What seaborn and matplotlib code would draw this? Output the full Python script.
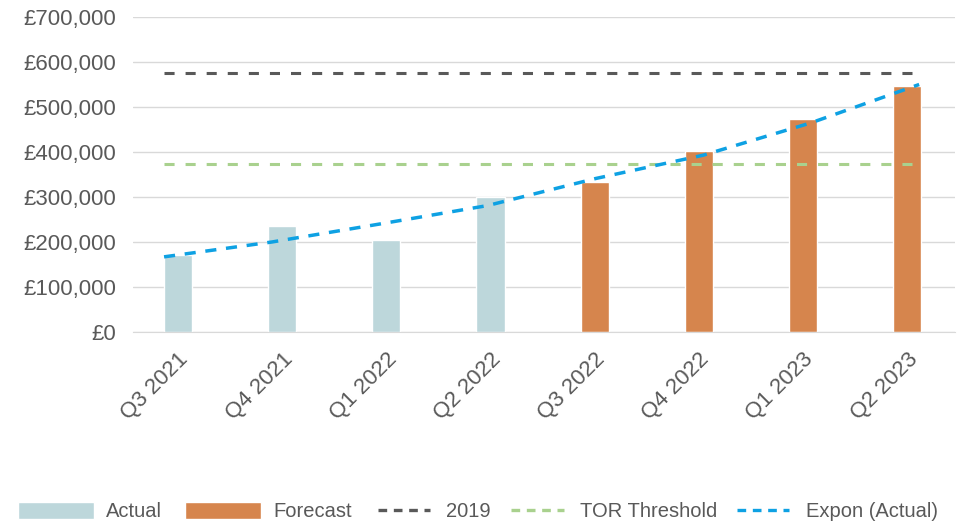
import numpy as np
import pandas as pd
import matplotlib
matplotlib.use("Agg")
import matplotlib.pyplot as plt
import matplotlib.ticker as mticker
from matplotlib.patches import Patch
from matplotlib.lines import Line2D
import seaborn as sns

# data
quarters = ["Q3 2021", "Q4 2021", "Q1 2022", "Q2 2022",
            "Q3 2022", "Q4 2022", "Q1 2023", "Q2 2023"]
values = [172000, 236000, 204000, 300000, 333000, 402000, 473000, 546000]
kind = ["Actual"] * 4 + ["Forecast"] * 4
level_2019 = 576000
tor_threshold = 373000
trend_actual = [167000, 200000, 240000, 281000, 341000, 393000, 465000, 550000]

colors = {"Actual": "#BDD7DB", "Forecast": "#D6854D"}
text_col = "#595959"

sns.set_style("white")
plt.rcParams["font.family"] = ["Liberation Sans", "DejaVu Sans"]

df = pd.DataFrame({"quarter": quarters, "value": values, "kind": kind})

fig = plt.figure(figsize=(9.73, 5.24), dpi=100)
ax = fig.add_axes([0.1367, 0.3664, 0.845, 0.6012])

sns.barplot(data=df, x="quarter", y="value", hue="kind", palette=colors,
            dodge=False, width=0.27, saturation=1, ax=ax, legend=False, zorder=2)

# horizontal reference lines and the trendline span a bit past the outer bars
x0, x1 = -0.134, 7.115
ax.hlines(level_2019, x0, x1, colors="#595959", lw=2.2, linestyles=(0, (3.3, 3.6)), zorder=3)
ax.hlines(tor_threshold, x0, x1, colors="#A9D18E", lw=2.2, linestyles=(0, (3.3, 3.6)), zorder=3)
ax.plot(np.linspace(x0, x1, len(trend_actual)), trend_actual, color="#0EA1E3",
        lw=2.5, dashes=(3.2, 2.8), zorder=4)

ax.set_ylim(0, 700000)
ax.set_xlim(-0.432, 7.461)
ax.yaxis.set_major_locator(mticker.MultipleLocator(100000))
ax.yaxis.set_major_formatter(mticker.FuncFormatter(lambda v, p: f"£{v:,.0f}"))
ax.grid(axis="y", color="#D9D9D9", lw=1, zorder=0)
ax.set_axisbelow(True)
for s in ["top", "right", "left"]:
    ax.spines[s].set_visible(False)
ax.spines["bottom"].set_color("#D9D9D9")
ax.set_xlabel("")
ax.set_ylabel("")
ax.tick_params(axis="y", length=0, labelsize=16, labelcolor=text_col, pad=12)
ax.tick_params(axis="x", length=0, labelsize=16, labelcolor=text_col, pad=12)
plt.setp(ax.get_xticklabels(), rotation=45, ha="right", rotation_mode="anchor")

# legend: wide boxes for the bars, shorter keys for the dashed lines
bar_handles = [
    Patch(facecolor=colors["Actual"], label="Actual"),
    Patch(facecolor=colors["Forecast"], label="Forecast"),
]
line_handles = [
    Line2D([], [], color="#595959", lw=2.4, dashes=(2.6, 2.0), label="2019"),
    Line2D([], [], color="#A9D18E", lw=2.4, dashes=(2.6, 2.0), label="TOR Threshold"),
    Line2D([], [], color="#0EA1E3", lw=2.4, dashes=(2.6, 2.0), label="Expon (Actual)"),
]
common = dict(loc="center left", ncol=5, frameon=False, fontsize=14.5, labelcolor=text_col,
              borderpad=0, borderaxespad=0)
leg1 = fig.legend(handles=bar_handles, bbox_to_anchor=(0.0185, 0.0235), handlelength=3.78,
                  handleheight=0.9, handletextpad=0.6, columnspacing=1.15, **common)
fig.legend(handles=line_handles, bbox_to_anchor=(0.3885, 0.0235), handlelength=2.6,
           handletextpad=0.8, columnspacing=1.0, **common)

fig.savefig("out.png", dpi=100)
